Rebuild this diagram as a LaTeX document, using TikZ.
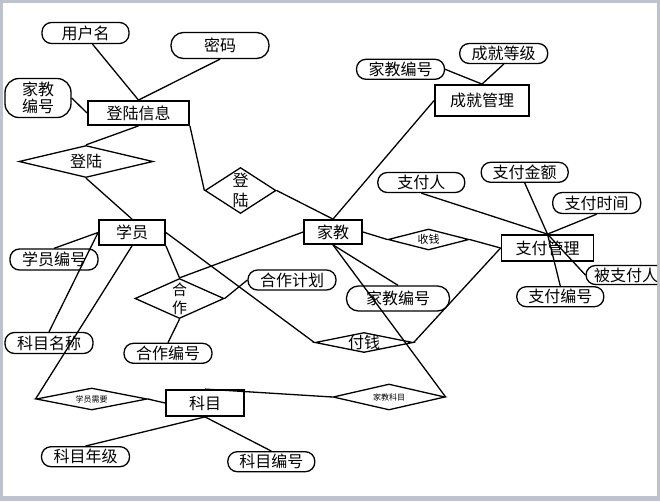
\documentclass[tikz,border=0pt]{standalone}
\usepackage{fontspec}
\setmainfont{Noto Sans CJK SC}
\usetikzlibrary{shapes.geometric}
\definecolor{framegray}{RGB}{190,194,204}

\begin{document}
\begin{tikzpicture}[x=1pt, y=-1pt,
        bigtxt/.style={font=\fontsize{16}{20}\selectfont},
        midtxt/.style={font=\fontsize{11}{13}\selectfont},
        tinytxt/.style={font=\fontsize{8}{10}\selectfont},
        ent/.style={draw, line width=1.8pt, inner sep=0pt, bigtxt},
        attr/.style={draw, line width=1.3pt, rounded corners=9.5pt, inner sep=0pt, minimum height=20pt, bigtxt},
        rel/.style={draw, diamond, line width=1.3pt, inner sep=0pt},
        link/.style={line width=1.3pt}]
        \useasboundingbox (0,0) rectangle (660,501);
        \fill [framegray] (0,0) rectangle (660,501);
        \fill [white] (3,3) rectangle (657,496);
        \clip (3,3) rectangle (657,496);

        \node [ent, minimum width=101pt, minimum height=24pt] (dlxx) at (138.5,113) {登陆信息};
        \node [ent, minimum width=66pt, minimum height=25pt] (xy) at (132,232.5) {学员};
        \node [ent, minimum width=58pt, minimum height=24pt] (jj) at (333,232) {家教};
        \node [ent, minimum width=94pt, minimum height=31pt] (cjgl) at (482,100.5) {成就管理};
        \node [ent, minimum width=92pt, minimum height=26pt] (zfgl) at (547.5,248) {支付管理};
        \node [ent, minimum width=78pt, minimum height=26pt] (km) at (205,403) {科目};

        \node [attr, minimum width=87pt, minimum height=21pt] (yhm) at (85.5,33) {用户名};
        \node [attr, minimum width=98pt, minimum height=26pt, rounded corners=12.5pt] (mm) at (220,45.5) {密码};
        \node [attr, minimum width=66pt, minimum height=39pt, rounded corners=14pt, align=center,
               font=\fontsize{16}{17}\selectfont] (jjbha) at (38,98) {家教\\编号};
        \node [attr, minimum width=88pt] (jjbhb) at (400.5,69.3) {家教编号};
        \node [attr, minimum width=88pt] (cjdj) at (503.7,53.5) {成就等级};
        \node [attr, minimum width=87pt] (zfr) at (421.3,182.5) {支付人};
        \node [attr, minimum width=87pt] (zfje) at (524.7,172.3) {支付金额};
        \node [attr, minimum width=88pt, minimum height=21pt] (zfsj) at (596.7,203) {支付时间};
        \node [attr, minimum width=80pt, minimum height=19pt] (bzfr) at (626,275) {被支付人};
        \node [attr, minimum width=87pt] (zfbh) at (560.3,296.7) {支付编号};
        \node [attr, minimum width=103pt, minimum height=25pt, rounded corners=12pt] (jjbhc) at (398,298.5) {家教编号};
        \node [attr, minimum width=88pt] (hzjh) at (292,280) {合作计划};
        \node [attr, minimum width=88pt, minimum height=21pt] (xybh) at (54,259.5) {学员编号};
        \node [attr, minimum width=88pt, minimum height=21pt] (kmmc) at (49,343) {科目名称};
        \node [attr, minimum width=88pt] (hzbh) at (168,353.3) {合作编号};
        \node [attr, minimum width=88pt] (kmnj) at (85.5,456.7) {科目年级};
        \node [attr, minimum width=87pt] (kmbh) at (271.3,461.7) {科目编号};

        \node [rel, minimum width=134pt, minimum height=32pt, label={[bigtxt]center:登陆}] (dla) at (86,161.5) {};
        \node [rel, minimum width=71pt, minimum height=46pt,
               label={[bigtxt, align=center]center:{登\\陆}}] (dlb) at (240.5,190.5) {};
        \node [rel, minimum width=81pt, minimum height=21pt, label={[midtxt]center:收钱}] (sq) at (428.5,239.5) {};
        \node [rel, minimum width=98pt, minimum height=20pt, label={[bigtxt]center:付钱}] (fq) at (364,342.5) {};
        \node [rel, minimum width=89pt, minimum height=40pt,
               label={[font=\fontsize{15}{18}\selectfont, align=center]center:{合\\作}}] (hz) at (179.5,298.5) {};
        \node [rel, minimum width=111pt, minimum height=22pt, label={[tinytxt]center:学员需要}] (xyxq) at (91.7,399) {};
        \node [rel, minimum width=112pt, minimum height=26pt, label={[tinytxt]center:家教科目}] (jjkm) at (389,397) {};

        \draw [link] ([xshift=7pt]yhm.south) -- (dlxx.north);
        \draw [link] (mm.south) -- (dlxx.north);
        \draw [link] (jjbha.east) -- (dlxx.west);
        \draw [link] (dlxx.south) -- (dla.north);
        \draw [link] (dla.south) -- (xy.north);
        \draw [link] (dlxx.south east) -- (dlb.west);
        \draw [link] (dlb.east) -- (jj.north);
        \draw [link] (jj.north) -- (cjgl.west);
        \draw [link] (jjbhb.east) -- (cjgl.north);
        \draw [link] (cjdj.south) -- (cjgl.north);
        \draw [link] (xybh.north) -- (xy.west);
        \draw [link] (xy.west) -- (kmmc.north);
        \draw [link] (xy.south) -- (xyxq.west);
        \draw [link] (xy.east) -- (fq.west);
        \draw [link] (xy.south east) -- (hz.north);
        \draw [link] (hz.north) -- (jj.west);
        \draw [link] (hz.east) -- (hzjh.west);
        \draw [link] (hz.south) -- (hzbh.north);
        \draw [link] (jj.east) -- (sq.west);
        \draw [link] (sq.east) -- (zfgl.west);
        \draw [link] (fq.east) -- (zfgl.west);
        \draw [link] (jj.south) -- (jjbhc.north);
        \draw [link] (jj.south) -- (jjkm.east);
        \draw [link] (zfr.south) -- (zfgl.north);
        \draw [link] (zfje.south) -- (zfgl.north);
        \draw [link] (zfsj.south) -- (zfgl.north);
        \draw [link] (zfgl.north) -- (bzfr.west);
        \draw [link] (zfgl.north) -- (zfbh.north);
        \draw [link] (xyxq.east) -- (km.west);
        \draw [link] (km.north) -- (jjkm.west);
        \draw [link] (km.south) -- (kmnj.north);
        \draw [link] (km.south) -- (kmbh.north);
    \end{tikzpicture}
\end{document}
